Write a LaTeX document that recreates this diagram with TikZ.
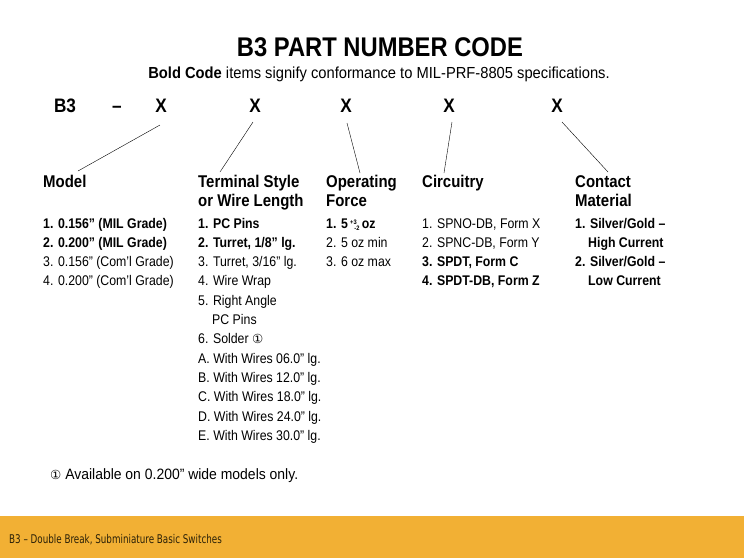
\documentclass[tikz,border=0pt]{standalone}
\usepackage{fontspec}
\setmainfont[FakeStretch=0.88]{Liberation Sans}
\newfontfamily\subfont[FakeStretch=0.92]{Liberation Sans}
\newfontfamily\notefont[FakeStretch=0.93]{Liberation Sans}
\newfontfamily\circfont{DejaVu Sans}
\newfontfamily\footfont[FakeStretch=0.73]{DejaVu Sans}
\usetikzlibrary{positioning}
\definecolor{barorange}{HTML}{F2B034}
\definecolor{bartext}{HTML}{2B2108}
\newcommand{\circone}{{\circfont\fontsize{12.5}{12.5}\selectfont ①}}
\newcommand{\tolfive}{5\,{\fontsize{6.5}{7}\selectfont\raisebox{0.9ex}{+3}\hspace{-0.35em}\raisebox{-0.6ex}{-2}}\,oz}

\begin{document}
\begin{tikzpicture}[
    x=1pt, y=-1pt,
    title/.style={font=\fontsize{27}{28}\selectfont\bfseries, inner sep=0pt, anchor=base},
    subtitle/.style={font=\subfont\fontsize{16}{17}\selectfont, inner sep=0pt, anchor=base},
    code/.style={font=\fontsize{19.5}{20}\selectfont\bfseries, inner sep=0pt, anchor=base},
    header/.style={font=\fontsize{17}{19.5}\selectfont\bfseries, align=left, inner sep=0pt, anchor=base west},
    items/.style={font=\fontsize{14}{19.3}\selectfont, align=left, inner sep=0pt, anchor=base west},
    lead/.style={thin, black}
]
\useasboundingbox (0,0) rectangle (744,558);

% Title
\node[title] (title) at (380,56) {B3 PART NUMBER CODE};
\node[subtitle] (subtitle) at (379,78.5) {\textbf{Bold Code} items signify conformance to MIL-PRF-8805 specifications.};

% Code row
\node[code] (b3) at (65,112) {B3};
\node[code] (dash) at (117,112) {–};
\node[code] (xmodel) at (161,112) {X};
\node[code] (xterm) at (255,112) {X};
\node[code] (xforce) at (346,112) {X};
\node[code] (xcirc) at (449,112) {X};
\node[code] (xcont) at (557,112) {X};

% Column headers (base = last line)
\node[header] (model) at (43,187) {Model};
\node[header] (term) at (198,206.5) {Terminal Style\\or Wire Length};
\node[header] (force) at (326,206.5) {Operating\\Force};
\node[header] (circ) at (422,187) {Circuitry};
\node[header] (cont) at (575,206.5) {Contact\\Material};

% Column items (base = last line, first line at 228)
\node[items] (modelitems) at (43,285.9) {\textbf{1. 0.156” (MIL Grade)}\\\textbf{2. 0.200” (MIL Grade)}\\3. 0.156” (Com’l Grade)\\4. 0.200” (Com’l Grade)};
\node[items] (termitems) at (198,440.3) {\textbf{1. PC Pins}\\\textbf{2. Turret, 1/8” lg.}\\3. Turret, 3/16” lg.\\4. Wire Wrap\\5. Right Angle\\\hspace*{14pt}PC Pins\\6. Solder \circone\\A. With Wires 06.0” lg.\\B. With Wires 12.0” lg.\\C. With Wires 18.0” lg.\\D. With Wires 24.0” lg.\\E. With Wires 30.0” lg.};
\node[items] (forceitems) at (326,266.6) {\textbf{1. \tolfive}\\2. 5 oz min\\3. 6 oz max};
\node[items] (circitems) at (422,285.9) {1. SPNO-DB, Form X\\2. SPNC-DB, Form Y\\\textbf{3. SPDT, Form C}\\\textbf{4. SPDT-DB, Form Z}};
\node[items] (contitems) at (575,285.9) {\textbf{1. Silver/Gold –}\\\hspace*{13pt}\textbf{High Current}\\\textbf{2. Silver/Gold –}\\\hspace*{13pt}\textbf{Low Current}};

% Footnote
\node[items, font=\notefont\fontsize{15}{16}\selectfont] (note) at (50,479) {\circone\ Available on 0.200” wide models only.};

% Leader lines
\coordinate (m1) at (160,125);  \coordinate (m2) at (78,171);
\coordinate (t1) at (253,122);  \coordinate (t2) at (220,172);
\coordinate (f1) at (347,123);  \coordinate (f2) at (360,173);
\coordinate (c1) at (452,122);  \coordinate (c2) at (444,173);
\coordinate (k1) at (562,122);  \coordinate (k2) at (608,172);
\draw[lead] (m1) -- (m2);
\draw[lead] (t1) -- (t2);
\draw[lead] (f1) -- (f2);
\draw[lead] (c1) -- (c2);
\draw[lead] (k1) -- (k2);

% Footer bar
\fill[barorange] (0,516) rectangle (744,558);
\node[font=\footfont\fontsize{12}{13}\selectfont, text=bartext, anchor=base west, inner sep=0pt] (footer) at (9,543) {B3 – Double Break, Subminiature Basic Switches};

\end{tikzpicture}
\end{document}
